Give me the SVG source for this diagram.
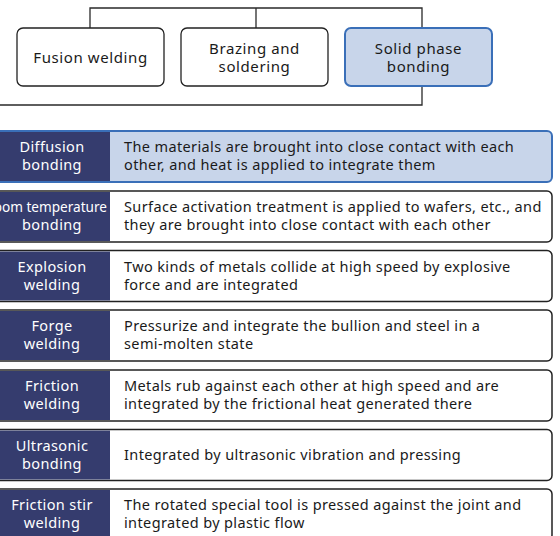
<svg xmlns="http://www.w3.org/2000/svg" width="560" height="536" viewBox="0 0 560 536">
<style>
text{font-family:"Noto Sans","Liberation Sans",sans-serif;font-size:14.5px;fill:#1a1a1a;letter-spacing:0.38px}
.h{font-size:15px;letter-spacing:0.6px}
.c{text-anchor:middle}
.w{fill:#ffffff}
.n{font-size:13.6px;letter-spacing:0px}
.box{fill:#ffffff;stroke:#222;stroke-width:1.3}
.sel{fill:#c8d5ea;stroke:#3a6fb8;stroke-width:2}
.row{fill:#ffffff;stroke:#222;stroke-width:1.5}
.rowsel{fill:#c8d5ea;stroke:#3a6fb8;stroke-width:2}
.lab{fill:#353c6e}
.ln{fill:none;stroke:#2a2a2a;stroke-width:1.3}
</style>
<g id="connectors">
<path class="ln" d="M90,28 V8 H422 V105 H0"/>
<path class="ln" d="M256,8 V28"/>
</g>
<g id="fusion"><rect class="box" x="17" y="28" width="147" height="58" rx="6"/><text class="c h" x="90.5" y="62.5">Fusion welding</text></g>
<g id="brazing"><rect class="box" x="181" y="28" width="147" height="58" rx="6"/><text class="c h" x="254.5" y="53.5">Brazing and</text><text class="c h" x="254.5" y="71.5">soldering</text></g>
<g id="solid"><rect class="sel" x="345" y="28" width="147" height="58" rx="6"/><text class="c h" x="418.5" y="53.5">Solid phase</text><text class="c h" x="418.5" y="71.5">bonding</text></g>

<g id="row1"><rect class="rowsel" x="-10" y="131" width="562" height="51" rx="5"/><rect class="lab" x="0" y="132" width="110" height="49"/><text class="c w" x="52" y="152">Diffusion</text><text class="c w" x="52" y="170">bonding</text><text x="124" y="152">The materials are brought into close contact with each</text><text x="124" y="170">other, and heat is applied to integrate them</text></g>
<g id="row2"><rect class="row" x="-10" y="191" width="562" height="51" rx="5"/><rect class="lab" x="0" y="192" width="110" height="49"/><text class="w n" text-anchor="end" x="107" y="212">Room temperature</text><text class="c w" x="52" y="230">bonding</text><text x="124" y="212">Surface activation treatment is applied to wafers, etc., and</text><text x="124" y="230">they are brought into close contact with each other</text></g>
<g id="row3"><rect class="row" x="-10" y="250.5" width="562" height="51" rx="5"/><rect class="lab" x="0" y="251.5" width="110" height="49"/><text class="c w" x="52" y="271.5">Explosion</text><text class="c w" x="52" y="289.5">welding</text><text x="124" y="271.5">Two kinds of metals collide at high speed by explosive</text><text x="124" y="289.5">force and are integrated</text></g>
<g id="row4"><rect class="row" x="-10" y="310" width="562" height="51" rx="5"/><rect class="lab" x="0" y="311" width="110" height="49"/><text class="c w" x="52" y="331">Forge</text><text class="c w" x="52" y="349">welding</text><text x="124" y="331">Pressurize and integrate the bullion and steel in a</text><text x="124" y="349">semi-molten state</text></g>
<g id="row5"><rect class="row" x="-10" y="370" width="562" height="51" rx="5"/><rect class="lab" x="0" y="371" width="110" height="49"/><text class="c w" x="52" y="391">Friction</text><text class="c w" x="52" y="409">welding</text><text x="124" y="391">Metals rub against each other at high speed and are</text><text x="124" y="409">integrated by the frictional heat generated there</text></g>
<g id="row6"><rect class="row" x="-10" y="429.5" width="562" height="51" rx="5"/><rect class="lab" x="0" y="430.5" width="110" height="49"/><text class="c w" x="52" y="450.5">Ultrasonic</text><text class="c w" x="52" y="468.5">bonding</text><text x="124" y="460">Integrated by ultrasonic vibration and pressing</text></g>
<g id="row7"><rect class="row" x="-10" y="489" width="562" height="51" rx="5"/><rect class="lab" x="0" y="490" width="110" height="49"/><text class="c w" x="52" y="510">Friction stir</text><text class="c w" x="52" y="528">welding</text><text x="124" y="510">The rotated special tool is pressed against the joint and</text><text x="124" y="528">integrated by plastic flow</text></g>
</svg>
